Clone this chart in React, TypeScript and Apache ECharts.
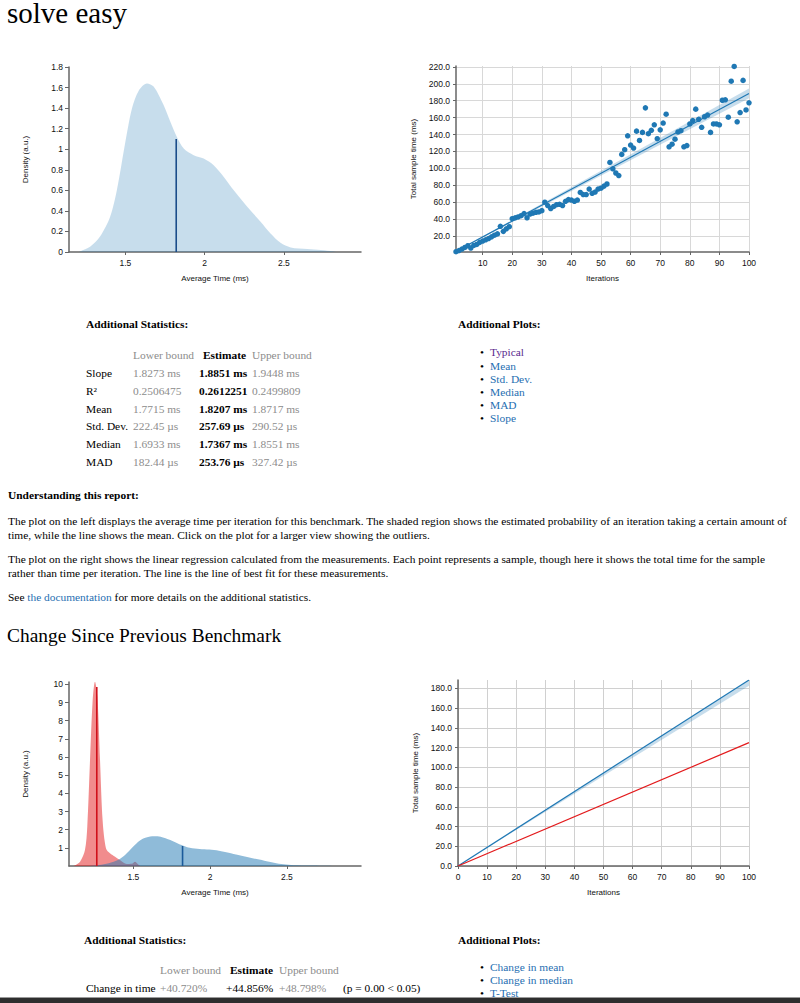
import React, { useEffect, useRef } from "react";
import * as echarts from "echarts";

// ---------- data ----------
const kdeX = [1.2, 1.214, 1.277, 1.34, 1.403, 1.446, 1.498, 1.541, 1.584, 1.636, 1.678, 1.741, 1.783, 1.825, 1.868, 1.931, 1.994, 2.057, 2.121, 2.184, 2.269, 2.353, 2.416, 2.479, 2.543, 2.648, 2.733, 2.817, 2.83];
const kdeY = [0, 0.006, 0.05, 0.15, 0.34, 0.6, 1.055, 1.395, 1.57, 1.64, 1.61, 1.43, 1.27, 1.12, 1.007, 0.942, 0.91, 0.845, 0.73, 0.6, 0.44, 0.295, 0.18, 0.09, 0.045, 0.03, 0.02, 0.006, 0];
const meanNew = 1.8207;
const meanNewDensity = 1.1;

const oldKdeX = [1.109, 1.153, 1.185, 1.2, 1.218, 1.235, 1.25, 1.266, 1.283, 1.3, 1.322, 1.348, 1.381, 1.413, 1.457, 1.49, 1.511, 1.53, 1.544];
const oldKdeY = [0, 0.24, 0.88, 2.16, 5.83, 9.1, 10.15, 9.3, 5.83, 2.5, 0.97, 0.7, 0.51, 0.33, 0.11, 0.12, 0.24, 0.1, 0];
const meanOld = 1.262;
const meanOldDensity = 9.85;

const iterations = [1, 2, 3, 4, 5, 6, 7, 8, 9, 10, 11, 12, 13, 14, 15, 16, 17, 18, 19, 20, 21, 22, 23, 24, 25, 26, 27, 28, 29, 30, 31, 32, 33, 34, 35, 36, 37, 38, 39, 40, 41, 42, 43, 44, 45, 46, 47, 48, 49, 50, 51, 52, 53, 54, 55, 56, 57, 58, 59, 60, 61, 62, 63, 64, 65, 66, 67, 68, 69, 70, 71, 72, 73, 74, 75, 76, 77, 78, 79, 80, 81, 82, 83, 84, 85, 86, 87, 88, 89, 90, 91, 92, 93, 94, 95, 96, 97, 98, 99, 100];
const sampleTimes = [1.5, 2.8, 4.6, 6.5, 8.6, 5.8, 8.8, 10, 12.5, 14, 15.5, 17, 19, 21, 22.5, 31.5, 25.5, 28.5, 31, 40.5, 41.5, 42.5, 44, 46.5, 41.5, 46, 47, 48, 48.5, 50, 60, 56, 52.5, 55, 57, 57.5, 56, 61, 63, 62.5, 61, 62.5, 71.5, 69, 69, 75.5, 70.5, 72, 75.5, 76.5, 79, 81.5, 107, 99.5, 94.5, 91.5, 116.5, 122, 138.5, 127.5, 124, 144, 133, 142.5, 171.5, 141, 145, 151.5, 135, 145.5, 153.5, 164, 125.5, 128.5, 134.5, 143, 144.5, 125.5, 127, 152.5, 156.5, 170, 158, 148.5, 161, 163, 142.5, 152.5, 152.5, 151.5, 180.5, 181, 160.5, 203, 220.5, 155, 166, 204, 169, 177.5];

const slopeLower = 1.8273;
const slopeEstimate = 1.8851;
const slopeUpper = 1.9448;
const oldSlope = 1.25;

const densityTicksTop = [0, 0.2, 0.4, 0.6, 0.8, 1, 1.2, 1.4, 1.6, 1.8];
const timeTicks = [1.5, 2, 2.5];
const iterTicks = [10, 20, 30, 40, 50, 60, 70, 80, 90, 100];
const sampleTicks = [20, 40, 60, 80, 100, 120, 140, 160, 180, 200, 220];
const changeDensityTicks = [1, 2, 3, 4, 5, 6, 7, 8, 9, 10];
const changeIterTicks = [0, 10, 20, 30, 40, 50, 60, 70, 80, 90, 100];
const changeSampleTicks = [0, 20, 40, 60, 80, 100, 120, 140, 160, 180];

const statLabels = ["Slope", "R\u00b2", "Mean", "Std. Dev.", "Median", "MAD"];
const statLower = ["1.8273 ms", "0.2506475", "1.7715 ms", "222.45 \u00b5s", "1.6933 ms", "182.44 \u00b5s"];
const statEstimate = ["1.8851 ms", "0.2612251", "1.8207 ms", "257.69 \u00b5s", "1.7367 ms", "253.76 \u00b5s"];
const statUpper = ["1.9448 ms", "0.2499809", "1.8717 ms", "290.52 \u00b5s", "1.8551 ms", "327.42 \u00b5s"];
const plotLinks = ["Typical", "Mean", "Std. Dev.", "Median", "MAD", "Slope"];
const changeLinks = ["Change in mean", "Change in median", "T-Test"];

// ---------- styling helpers ----------
const sans = 'Arial, "Liberation Sans", Helvetica, sans-serif';
const serif = '"Liberation Serif", "Times New Roman", Times, serif';
const AX = "#666";
const labelStyle = { fontFamily: sans, fontSize: 8.5, color: "#111" };
const nameStyle = { fontFamily: sans, fontSize: 8, color: "#111" };
const BAND = "rgba(31,120,180,0.25)";

function axisBase(extra: any) {
  return {
    type: "value",
    nameLocation: "middle",
    nameTextStyle: nameStyle,
    axisLine: { show: true, onZero: false, lineStyle: { color: AX, width: 1.5 } },
    ...extra,
  };
}

const pairs = (xs: number[], ys: number[]) => xs.map((x, i) => [x, ys[i]]);

// band polygon between two lines through the library's coordinate system
function bandSeries(row: number[]) {
  return {
    type: "custom",
    silent: true,
    data: [row],
    encode: { x: [0, 3], y: [1, 2, 4, 5] },
    renderItem: (_p: any, api: any) => {
      const pts = [
        api.coord([api.value(0), api.value(1)]),
        api.coord([api.value(3), api.value(4)]),
        api.coord([api.value(3), api.value(5)]),
        api.coord([api.value(0), api.value(2)]),
      ];
      return { type: "polygon", shape: { points: pts }, style: { fill: BAND } };
    },
  };
}

const option1 = {
  animation: false,
  grid: { left: 69, top: 17, right: 39, bottom: 38, outerBoundsMode: "none" },
  xAxis: axisBase({
    min: 1.144,
    max: 2.987,
    name: "Average Time (ms)",
    nameGap: 22,
    axisTick: { show: true, customValues: timeTicks, length: 3, lineStyle: { color: AX } },
    axisLabel: { customValues: timeTicks, margin: 6, ...labelStyle },
    splitLine: { show: false },
  }),
  yAxis: axisBase({
    min: 0,
    max: 1.8,
    name: "Density (a.u.)",
    nameGap: 40,
    axisTick: { show: true, customValues: densityTicksTop, length: 4, lineStyle: { color: AX } },
    axisLabel: { customValues: densityTicksTop, margin: 6, ...labelStyle },
    splitLine: { show: false },
  }),
  series: [
    {
      type: "line",
      data: pairs(kdeX, kdeY),
      smooth: 0.3,
      showSymbol: false,
      lineStyle: { width: 0, opacity: 0 },
      areaStyle: { color: BAND, opacity: 1 },
    },
    {
      type: "line",
      data: [[meanNew, 0], [meanNew, meanNewDensity]],
      showSymbol: false,
      lineStyle: { color: "#1a4c8a", width: 1.6 },
    },
  ],
};

const option2 = {
  animation: false,
  grid: { left: 56, top: 16, right: 51, bottom: 38, outerBoundsMode: "none" },
  xAxis: axisBase({
    min: 1,
    max: 100,
    name: "Iterations",
    nameGap: 22,
    axisTick: { show: true, customValues: iterTicks, length: 3, lineStyle: { color: AX } },
    axisLabel: { customValues: iterTicks, margin: 6, ...labelStyle },
    splitLine: { show: true, lineStyle: { color: "#d8d8d8", width: 1 } },
  }),
  yAxis: axisBase({
    min: 1.1,
    max: 221,
    name: "Total sample time (ms)",
    nameGap: 38,
    axisTick: { show: true, customValues: sampleTicks, length: 3, lineStyle: { color: AX } },
    axisLabel: { customValues: sampleTicks, margin: 6, formatter: (v: number) => v.toFixed(1), ...labelStyle },
    splitLine: { show: true, lineStyle: { color: "#d8d8d8", width: 1 } },
  }),
  series: [
    bandSeries([1, slopeLower * 1, slopeUpper * 1, 100, slopeLower * 100, slopeUpper * 100]),
    {
      type: "line",
      data: [[1, slopeEstimate], [100, slopeEstimate * 100]],
      showSymbol: false,
      lineStyle: { color: "#1f78b4", width: 1.2 },
    },
    {
      type: "scatter",
      data: pairs(iterations, sampleTimes),
      symbolSize: 5.5,
      itemStyle: { color: "#1f78b4", opacity: 1 },
    },
  ],
};

const option3 = {
  animation: false,
  grid: { left: 69, top: 22, right: 39, bottom: 44, outerBoundsMode: "none" },
  xAxis: axisBase({
    min: 1.081,
    max: 2.983,
    name: "Average Time (ms)",
    nameGap: 22,
    axisTick: { show: true, customValues: timeTicks, length: 3, lineStyle: { color: AX } },
    axisLabel: { customValues: timeTicks, margin: 6, ...labelStyle },
    splitLine: { show: false },
  }),
  yAxis: axisBase({
    min: 0,
    max: 10.13,
    name: "Density (a.u.)",
    nameGap: 40,
    axisTick: { show: true, customValues: changeDensityTicks, length: 4, lineStyle: { color: AX } },
    axisLabel: { customValues: changeDensityTicks, margin: 6, ...labelStyle },
    splitLine: { show: false },
  }),
  series: [
    {
      type: "line",
      data: pairs(oldKdeX, oldKdeY),
      smooth: 0.3,
      showSymbol: false,
      lineStyle: { width: 0, opacity: 0 },
      areaStyle: { color: "rgba(227,26,28,0.5)", opacity: 1 },
    },
    {
      type: "line",
      data: pairs(kdeX, kdeY),
      smooth: 0.3,
      showSymbol: false,
      lineStyle: { width: 0, opacity: 0 },
      areaStyle: { color: "rgba(31,120,180,0.5)", opacity: 1 },
    },
    {
      type: "line",
      data: [[meanOld, 0], [meanOld, meanOldDensity]],
      showSymbol: false,
      lineStyle: { color: "#d0101a", width: 1.6 },
    },
    {
      type: "line",
      data: [[meanNew, 0], [meanNew, meanNewDensity]],
      showSymbol: false,
      lineStyle: { color: "#1a5a9a", width: 1.6 },
    },
  ],
};

const option4 = {
  animation: false,
  grid: { left: 58, top: 10, right: 51, bottom: 44, outerBoundsMode: "none" },
  xAxis: axisBase({
    min: 0,
    max: 100,
    name: "Iterations",
    nameGap: 22,
    axisTick: { show: true, customValues: changeIterTicks, length: 3, lineStyle: { color: AX } },
    axisLabel: { customValues: changeIterTicks, margin: 6, ...labelStyle },
    splitLine: { show: true, lineStyle: { color: "#d0d0d0", width: 1 } },
  }),
  yAxis: axisBase({
    min: 0,
    max: slopeEstimate * 100,
    name: "Total sample time (ms)",
    nameGap: 39,
    axisTick: { show: true, customValues: changeSampleTicks, length: 3, lineStyle: { color: AX } },
    axisLabel: { customValues: changeSampleTicks, margin: 6, formatter: (v: number) => v.toFixed(1), ...labelStyle },
    splitLine: { show: true, lineStyle: { color: "#d0d0d0", width: 1 } },
  }),
  series: [
    bandSeries([0, 0, 0, 100, slopeLower * 100, slopeEstimate * 100]),
    {
      type: "line",
      data: [[0, 0], [100, slopeEstimate * 100]],
      showSymbol: false,
      lineStyle: { color: "#1f78b4", width: 1.2 },
    },
    {
      type: "line",
      data: [[0, 0], [100, oldSlope * 100]],
      showSymbol: false,
      lineStyle: { color: "#e31a1c", width: 1.2 },
    },
  ],
};

// ---------- components ----------
function Chart({ left, top, width, height, option }: any) {
  const ref = useRef<HTMLDivElement>(null);
  useEffect(() => {
    const c = echarts.init(ref.current!, null, { renderer: "svg" });
    c.setOption(option);
    return () => c.dispose();
  }, []);
  return <div ref={ref} style={{ position: "absolute", left, top, width, height }} />;
}

const FS = 11.4;

function T({ x, b, size = FS, bold = false, color = "#000", lh = 1.2, children }: any) {
  const off = ((lh - 1.107) / 2 + 0.891) * size;
  return (
    <div
      style={{
        position: "absolute",
        left: x,
        top: b - off,
        fontSize: size,
        lineHeight: `${lh * size}px`,
        fontWeight: bold ? 700 : 400,
        color,
        whiteSpace: "nowrap",
        fontFamily: serif,
      }}
    >
      {children}
    </div>
  );
}

const GRAY = "#8c8c8c";
const LINK = "#1f6fb2";

export default function App() {
  const rowB = [378, 396, 414, 431, 449, 467];
  const listB = [357, 370.5, 383.5, 396.5, 409.5, 422.5];
  const changeListB = [971.5, 984.5, 997.5];
  return (
    <div style={{ position: "absolute", left: 0, top: 0, width: 800, height: 1003, overflow: "hidden", background: "#fff" }}>
      <T x={7} b={23} size={29} lh={0.9}>solve easy</T>

      <Chart left={0} top={50} width={400} height={240} option={option1} />
      <Chart left={400} top={50} width={400} height={240} option={option2} />

      <T x={86} b={329} bold>Additional Statistics:</T>
      <T x={133} b={360} color={GRAY}>Lower bound</T>
      <T x={203} b={360} bold>Estimate</T>
      <T x={252} b={360} color={GRAY}>Upper bound</T>
      {statLabels.map((s, i) => (
        <React.Fragment key={s}>
          <T x={86} b={rowB[i]}>{s}</T>
          <T x={133} b={rowB[i]} color={GRAY}>{statLower[i]}</T>
          <T x={199} b={rowB[i]} bold>{statEstimate[i]}</T>
          <T x={252} b={rowB[i]} color={GRAY}>{statUpper[i]}</T>
        </React.Fragment>
      ))}

      <T x={458} b={329} bold>Additional Plots:</T>
      {plotLinks.map((s, i) => (
        <React.Fragment key={s}>
          <T x={480} b={listB[i]}>{"\u2022"}</T>
          <T x={490} b={listB[i]} color={i === 0 ? "#5b2a8e" : LINK}>{s}</T>
        </React.Fragment>
      ))}

      <T x={8} b={500} bold>Understanding this report:</T>
      <T x={8} b={526}>The plot on the left displays the average time per iteration for this benchmark. The shaded region shows the estimated probability of an iteration taking a certain amount of</T>
      <T x={8} b={540}>time, while the line shows the mean. Click on the plot for a larger view showing the outliers.</T>
      <T x={8} b={564}>The plot on the right shows the linear regression calculated from the measurements. Each point represents a sample, though here it shows the total time for the sample</T>
      <T x={8} b={578}>rather than time per iteration. The line is the line of best fit for these measurements.</T>
      <T x={8} b={602}>
        See <span style={{ color: LINK }}>the documentation</span> for more details on the additional statistics.
      </T>

      <T x={7} b={642} size={19.4}>Change Since Previous Benchmark</T>

      <Chart left={0} top={660} width={400} height={250} option={option3} />
      <Chart left={400} top={670} width={400} height={240} option={option4} />

      <T x={84} b={945} bold>Additional Statistics:</T>
      <T x={160} b={975} color={GRAY}>Lower bound</T>
      <T x={230} b={975} bold>Estimate</T>
      <T x={279} b={975} color={GRAY}>Upper bound</T>
      <T x={86} b={992.5}>Change in time</T>
      <T x={160} b={992.5} color={GRAY}>+40.720%</T>
      <T x={226} b={992.5}>+44.856%</T>
      <T x={279} b={992.5} color={GRAY}>+48.798%</T>
      <T x={343} b={992.5}>(p = 0.00 &lt; 0.05)</T>

      <T x={458} b={945} bold>Additional Plots:</T>
      {changeLinks.map((s, i) => (
        <React.Fragment key={s}>
          <T x={480} b={changeListB[i]}>{"\u2022"}</T>
          <T x={490} b={changeListB[i]} color={LINK}>{s}</T>
        </React.Fragment>
      ))}

      <div style={{ position: "absolute", left: 0, top: 997, width: 800, height: 1, background: "#9a9a9a" }} />
      <div style={{ position: "absolute", left: 0, top: 998, width: 800, height: 5, background: "#2e2e2e" }} />
    </div>
  );
}
